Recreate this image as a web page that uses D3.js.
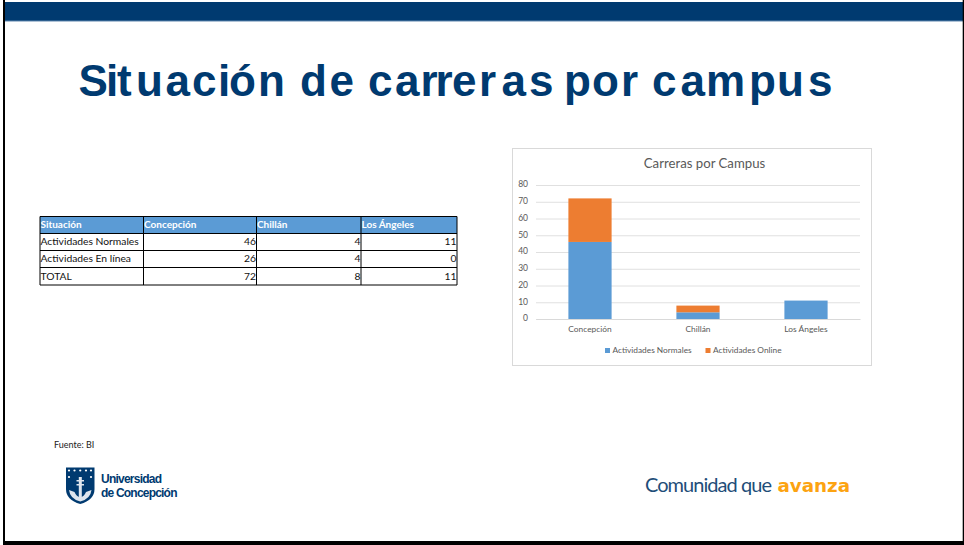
<!DOCTYPE html>
<html><head><meta charset="utf-8">
<script src="https://cdn.jsdelivr.net/npm/d3@7/dist/d3.min.js"></script>
<style>html,body{margin:0;padding:0;background:#fff;overflow:hidden}svg{display:block}</style>
</head><body><svg id="c" width="964" height="545"></svg>
<script>
const titleText = "Situación de carreras por campus";
const chartTitle = "Carreras por Campus";
const categories = ["Concepción","Chillán","Los Ángeles"];
const normales = [46,4,11];
const online = [26,4,0];
const enLinea = [26,4,0];
const totals = [72,8,11];
const legendLabels = ["Actividades Normales","Actividades Online"];
const yTicks = [0,10,20,30,40,50,60,70,80];
const tableHeader = ["Situación","Concepción","Chillán","Los Ángeles"];
const rowLabels = ["Actividades Normales","Actividades En línea","TOTAL"];
const tableRows = [normales,enLinea,totals];

const svg = d3.select("#c");
const navy = "#003a70", blue = "#5b9bd5", orange = "#ed7d31", grey = "#595959";
const font = "Lato,'Open Sans',sans-serif";

// slide frame
svg.append("rect").attr("x",0).attr("y",0).attr("width",964).attr("height",545).attr("fill","#fff");
svg.append("rect").attr("x",5).attr("y",2).attr("width",958).attr("height",19).attr("fill",navy);
svg.append("rect").attr("x",5).attr("y",20.5).attr("width",958).attr("height",1).attr("fill","#5f86ad");
svg.append("rect").attr("x",3).attr("y",0).attr("width",2).attr("height",545).attr("fill","#000");
svg.append("rect").attr("x",3).attr("y",541).attr("width",961).attr("height",4).attr("fill","#000");
svg.append("rect").attr("x",962.7).attr("y",0).attr("width",1.3).attr("height",545).attr("fill","#000");

// title: the reference has uneven letter spacing, so each glyph gets its own start
const titleGlyphX = [78.5,106,117,136,165.5,192,218,229,258,290,300,329.5,358,368,395,420.5,435.5,452,479,501.5,529,555,564,592,621,642,652,680.5,706,749,777,808];
svg.append("text").attr("x",titleGlyphX.join(" ")).attr("y",95.5).text(titleText)
  .attr("font-family","'Liberation Sans',Arial,sans-serif").attr("font-weight",700)
  .attr("font-size",44).attr("fill",navy);

// table
const colEdges = [40,143.5,256.5,361,457];
const rowEdges = [216.5,233.5,250.5,267.5,285];
const tg = svg.append("g").attr("font-family",font).attr("font-size",10.3);
tg.append("rect").attr("x",colEdges[0]).attr("y",rowEdges[0]).attr("width",colEdges[4]-colEdges[0]).attr("height",rowEdges[1]-rowEdges[0]).attr("fill",blue);
tableHeader.forEach((h,i)=>tg.append("text").attr("x",colEdges[i]+0.5).attr("y",rowEdges[1]-6).text(h).attr("fill","#fff").attr("font-weight",700).attr("font-size",10));
rowLabels.forEach((r,j)=>{
  tg.append("text").attr("x",colEdges[0]+0.5).attr("y",rowEdges[j+2]-5.5).text(r).attr("fill","#111");
  tableRows[j].forEach((v,i)=>tg.append("text").attr("x",colEdges[i+2]-0.5).attr("y",rowEdges[j+2]-5.5).attr("text-anchor","end").text(v).attr("fill","#111"));
});
colEdges.forEach(x=>tg.append("line").attr("x1",x).attr("x2",x).attr("y1",rowEdges[0]).attr("y2",rowEdges[4]).attr("stroke","#000"));
rowEdges.forEach(y=>tg.append("line").attr("x1",colEdges[0]).attr("x2",colEdges[4]).attr("y1",y).attr("y2",y).attr("stroke","#000"));

// chart box
svg.append("rect").attr("x",512.5).attr("y",148.5).attr("width",359).attr("height",217).attr("fill","#fff").attr("stroke","#d9d9d9");
svg.append("text").attr("x",704.5).attr("y",168).attr("text-anchor","middle").text(chartTitle)
  .attr("font-family",font).attr("font-size",13.2).attr("fill",grey);

const x = d3.scaleBand().domain(categories).range([536,860]).paddingInner(0.6).paddingOuter(0.3);
const y = d3.scaleLinear().domain([0,80]).range([319,185]);
const stack = d3.stack().keys(["n","o"])(categories.map((c,i)=>({c,n:normales[i],o:online[i]})));

const yAxis = d3.axisLeft(y).tickValues(yTicks).tickSize(-324).tickPadding(8);
const gy = svg.append("g").attr("transform","translate(536,0)").call(yAxis);
gy.select(".domain").remove();
gy.selectAll(".tick line").attr("stroke","#e0e0e0");
gy.selectAll("text").attr("font-family",font).attr("font-size",8.5).attr("fill",grey).attr("dy","0.22em");

const colors = [blue,orange];
stack.forEach((s,k)=>{
  svg.append("g").attr("fill",colors[k]).selectAll("rect").data(s).join("rect")
    .attr("x",d=>x(d.data.c)).attr("width",x.bandwidth())
    .attr("y",d=>y(d[1])).attr("height",d=>y(d[0])-y(d[1]));
});

const xAxis = d3.axisBottom(x).tickSize(0).tickPadding(7);
const gx = svg.append("g").attr("transform","translate(0,319)").call(xAxis);
gx.select(".domain").attr("stroke","#d9d9d9");
gx.selectAll("text").attr("font-family",font).attr("font-size",8.4).attr("fill",grey);

// legend
const legendX = [605,705.5];
legendLabels.forEach((l,i)=>{
  svg.append("rect").attr("x",legendX[i]).attr("y",348).attr("width",5).attr("height",5).attr("fill",colors[i]);
  svg.append("text").attr("x",legendX[i]+7.5).attr("y",352.5).text(l)
    .attr("font-family",font).attr("font-size",8.3).attr("fill",grey);
});

// source
svg.append("text").attr("x",54).attr("y",447.5).text("Fuente: BI").attr("font-family",font).attr("font-size",9).attr("fill","#222");

// logo crest
const crest = svg.append("g");
crest.append("path").attr("d","M66 467.5H94.5V489Q94.5 500 80.25 504Q66 500 66 489Z").attr("fill",navy);
crest.append("path").attr("d","M69 490Q70 499 80.25 501.5Q90.5 499 91.5 490L86 492Q84 497 80.25 497Q76.5 497 74.5 492Z").attr("fill","#dfe6ee");
crest.append("rect").attr("x",78.8).attr("y",477).attr("width",3).attr("height",20).attr("fill","#dfe6ee");
crest.append("rect").attr("x",76.5).attr("y",480).attr("width",7.5).attr("height",1.5).attr("fill","#dfe6ee");
crest.append("rect").attr("x",76.5).attr("y",484).attr("width",7.5).attr("height",1.5).attr("fill","#dfe6ee");
[69,74.5,80.25,86,91].forEach(cx=>crest.append("circle").attr("cx",cx).attr("cy",470.5).attr("r",1.1).attr("fill","#fff"));
[69,91].forEach(cx=>crest.append("circle").attr("cx",cx).attr("cy",477).attr("r",1.1).attr("fill","#fff"));
svg.append("text").attr("x",101).attr("y",482.5).text("Universidad").attr("font-family","'Liberation Sans',sans-serif").attr("font-weight",700).attr("font-size",12).attr("fill",navy).attr("textLength",61);
svg.append("text").attr("x",101).attr("y",497).text("de Concepción").attr("font-family","'Liberation Sans',sans-serif").attr("font-weight",700).attr("font-size",12).attr("fill",navy).attr("textLength",76.5);

// slogan
svg.append("text").attr("x",645).attr("y",492).text("Comunidad que").attr("font-family",font).attr("font-size",20).attr("font-weight",400)
  .attr("fill","#1f4e79").attr("textLength",127);
svg.append("text").attr("x",777.5).attr("y",492).text("avanza").attr("font-family","'DejaVu Sans',sans-serif").attr("font-weight",700).attr("font-size",18)
  .attr("fill","#fca311").attr("textLength",72.5).attr("lengthAdjust","spacingAndGlyphs");
</script></body></html>
